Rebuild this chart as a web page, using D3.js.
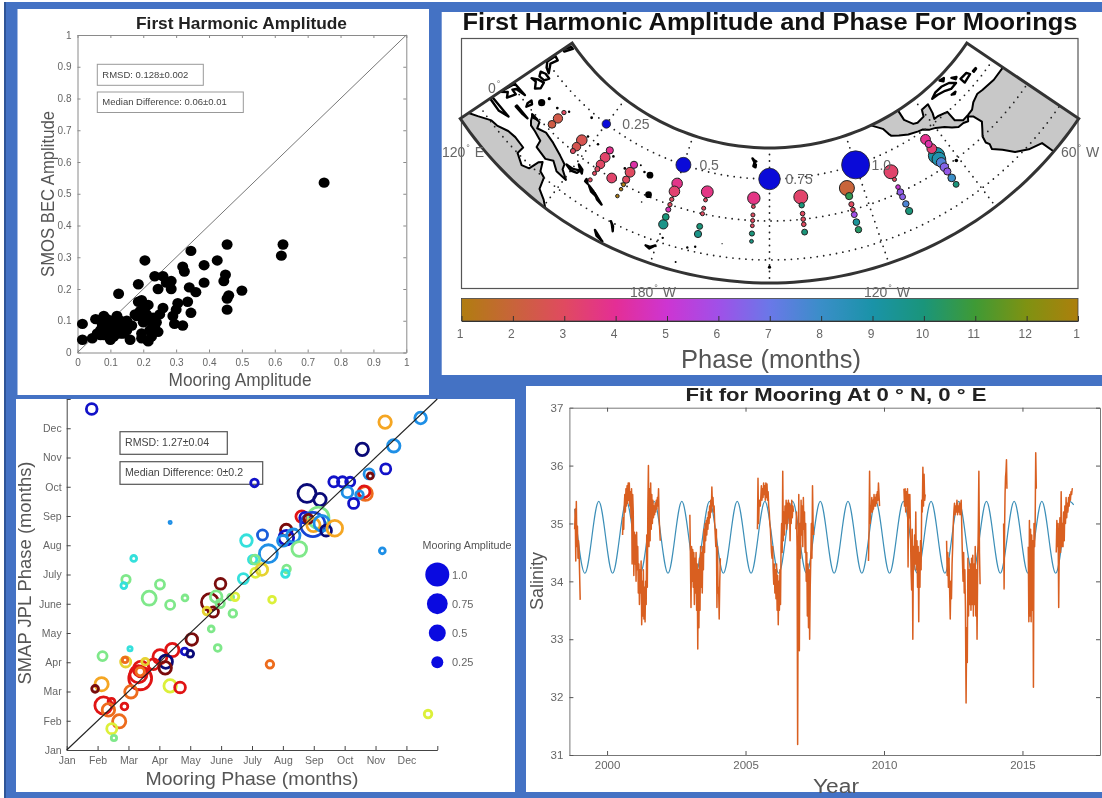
<!DOCTYPE html>
<html><head><meta charset="utf-8">
<script src="https://cdn.jsdelivr.net/npm/d3@7"></script>
<style>
html,body{margin:0;padding:0;background:#fff;overflow:hidden}
svg{display:block;filter:blur(0.35px)}
text{font-family:"Liberation Sans",Arial,sans-serif}
</style></head><body>
<svg id="chart" width="1102" height="798"></svg>
<script>
// ---------- panel A: amplitude scatter ----------
const ampMooring=[0.015,0.015,0.045,0.055,0.07,0.08,0.075,0.085,0.09,0.095,0.1,0.105,0.11,0.12,0.125,0.13,0.14,0.15,0.15,0.16,0.175,0.185,0.185,0.125,0.195,0.2,0.2,0.195,0.205,0.215,0.215,0.22,0.23,0.235,0.245,0.25,0.26,0.205,0.235,0.26,0.245,0.27,0.285,0.285,0.29,0.295,0.32,0.3,0.305,0.32,0.325,0.345,0.34,0.335,0.345,0.36,0.385,0.385,0.425,0.445,0.45,0.455,0.455,0.46,0.455,0.5,0.62,0.625,0.75,0.08,0.09,0.1,0.075,0.11,0.165,0.18,0.19,0.21,0.225,0.24,0.195,0.06,0.13,0.14,0.07,0.1,0.12,0.21,0.23];
const ampSmos=[0.09,0.04,0.045,0.105,0.07,0.115,0.09,0.08,0.06,0.05,0.04,0.1,0.07,0.115,0.09,0.06,0.08,0.07,0.1,0.04,0.12,0.16,0.215,0.185,0.165,0.12,0.095,0.045,0.14,0.15,0.035,0.07,0.11,0.08,0.065,0.12,0.14,0.29,0.24,0.24,0.2,0.22,0.2,0.225,0.115,0.09,0.085,0.135,0.155,0.27,0.255,0.32,0.205,0.16,0.125,0.19,0.275,0.22,0.29,0.225,0.245,0.17,0.34,0.18,0.135,0.195,0.305,0.34,0.535,0.055,0.105,0.085,0.075,0.05,0.085,0.115,0.13,0.1,0.05,0.095,0.06,0.06,0.1,0.06,0.055,0.065,0.1,0.12,0.09];
const ampTicks=[0,0.1,0.2,0.3,0.4,0.5,0.6,0.7,0.8,0.9,1];

// ---------- panel B: mooring map ----------
const mooringLon=[137,137,137, 147,147,147, 156,156,156,156,156,156, 161, 165,165,165,165,165,165,
 180,180,180,180,180,180,180, 190,190,190,190,190,190,
 205,205,205,205,205,205,205, 220,220,220,220,220,220,
 235,235,235,235,235,235,235, 250,250,250,250,250,250,250,
 265,265,265,265,265,265,265,265,265,265];
const mooringLat=[8,5,2, 5,2,0, 8,5,2,0,-2,-5, 0, 8,5,2,0,-2,-5,
 8,5,2,0,-2,-5,-8, 8,5,2,0,-5,-8,
 8,5,2,0,-2,-5,-8, 8,5,2,0,-2,-5,
 8,5,2,0,-2,-5,-8, 8,5,2,0,-2,-5,-8,
 12,10,8,5,3.5,2,0,-2,-5,-8];
const mooringAmp=[0.09,0.28,0.22, 0.33,0.25,0.12, 0.2,0.3,0.25,0.12,0.08,0.08, 0.3, 0.2,0.3,0.2,0.08,0.06,0.06,
 0.33,0.33,0.09,0.09,0.12,0.18,0.28, 0.38,0.07,0.08,0.08,0.15,0.2,
 0.4,0.07,0.08,0.08,0.07,0.12,0.07, 0.46,0.13,0.1,0.1,0.1,0.15,
 0.5,0.2,0.12,0.1,0.15,0.18,0.17, 0.46,0.08,0.1,0.18,0.15,0.17,0.2,
 0.3,0.2,0.3,0.55,0.45,0.3,0.25,0.2,0.22,0.15];
const mooringPhase=[3,2.4,2.3, 2.6,2.6,3, 3.9,3.2,3.1,3,3,3, 3.2, 4.3,3,3,1,1,1,
 3.8,3.3,3,3,4.5,10,9.7, 3.7,3,3,3,10,9.7,
 3.7,3,3,3,3,10,9.8, 3.2,10,3,3,3,10,
 2,10.6,3,3,6,9.3,10.3, 3.2,3,5,6.3,6.4,7.6,10,
 3.9,4.4,3.4,9,8.8,7.5,6.5,6.2,8,10];
const legendLon=[150,180,210,240];
const legendLat=[15,15,15,15];
const legendAmp=[0.25,0.5,0.75,1];
const legendLabel=["0.25","0.5","0.75","1.0"];
const meridians=[150,180,210,240,270];
const parallels=[15,0,-15];
const phaseStops=[1,2,3,4,5,6,7,8,9,10,11,12,13];
const phaseTickLabels=["1","2","3","4","5","6","7","8","9","10","11","12","1"];
const landAustralia=[[115,-40],[115,-20],[120,-19.5],[122,-17.5],[125,-14.5],[127,-14],[130,-12],[132.5,-11.5],[136,-12],[136,-15],[139,-17],[141,-16],[141.7,-12],[142.5,-10.8],[143.7,-14],[145.5,-15],[146.5,-19],[149,-21],[151,-23.5],[153,-26],[153,-40]];
const landNewGuinea=[[131,-0.9],[134,-0.8],[134.8,-3],[137.5,-1.7],[141,-2.6],[145,-4.5],[147.5,-6],[148,-8],[150.5,-10.4],[147,-10],[144.5,-7.7],[142.5,-9.2],[138.5,-8.2],[138,-5.5],[135,-4.4],[133,-4],[132,-2.8]];
const landAmericas=[[250,30],[250.5,26],[254,23],[255,20.5],[255.5,19.5],[258,18.2],[261,16.8],[264.5,15.8],[266,15.5],[268,14],[270,13.2],[272.5,11.5],[274.3,9.7],[276,8.3],[278,8.2],[279.5,7.5],[280.5,8.8],[281.7,7.5],[282.5,4],[281,2],[279.5,0],[279,-2.5],[279.5,-4],[279,-6],[281,-9],[283,-13],[286,-16],[289.5,-18],[289.8,-23],[290,-40],[310,-40],[310,10],[300,10.5],[295,10.6],[290,11.5],[288,12],[285,11],[283,9.5],[281,9.2],[278.5,9],[276.5,11],[276.5,15],[273,16],[271.5,16],[272.3,18],[273,21.5],[270,21.3],[269,19],[266,18.5],[264.5,19],[262.5,22],[262.5,26],[263,30]];
const islands=[
 [[120.5,18.5],[122.2,18.3],[121.7,15.5],[124,13],[122,13.6],[120.5,15]],
 [[122,7],[123.5,8.6],[125.5,9.6],[126.3,7.5],[125.3,5.8],[123.7,7.5]],
 [[122,11],[123.5,12],[125.5,12],[125,10.2],[123,9.7]],
 [[120,22],[121,25],[122,25],[121,22]],
 [[120,-5.5],[120.5,1],[125,1.5],[122,0.3],[121.5,-1],[123.2,-1],[122.5,-4.5],[121.3,-3]],
 [[127.5,2.2],[128.5,1.5],[128,-0.7],[127.4,0.5]],
 [[126,-3.2],[130.8,-3.2],[129,-3.6],[126,-3.8]],
 [[120,-9],[125,-8.5],[127,-8.4],[124,-10],[120,-10]],
 [[130.8,-0.8],[133,-0.7],[131.5,-1.5]],
 [[148,-5.6],[150.2,-5.4],[152.2,-4.2],[151.8,-5.7],[150,-6.4]],
 [[150.8,-2.7],[152.5,-3.5],[153,-4.8],[151.6,-3.6]],
 [[155,-5.5],[156,-6.8],[155,-6.5]],
 [[156.5,-7],[158.5,-8],[160,-9.2],[158,-8.6]],
 [[159,-8.3],[161,-9.8],[162.3,-10.8],[160.5,-10]],
 [[166.6,-14.7],[167.2,-15.6],[168.2,-17.6],[167.7,-16]],
 [[164,-20],[166.5,-22],[167,-22.4],[165,-21.5]],
 [[177.4,-17.6],[178.6,-17.6],[179.8,-16.5],[178.6,-18.2]],
 [[203.7,22.1],[204.4,21.5],[205.2,21.1],[204.5,20.8]],
 [[204.5,20.5],[205.1,19.9],[205,19],[204.2,19.4]],
 [[275.5,22],[278,23],[281,23],[284,22],[285.8,20.2],[283,20],[281,21],[278,21.8]],
 [[288,20],[291,19.8],[291.5,18.5],[288,18]],
 [[281.7,18.4],[283.4,18.2],[282.6,17.8]],
 [[293,18.4],[294.4,18.3],[294.3,18],[293,18]],
 [[282.2,25],[284,24.5],[283,23.8]],
 [[286,22.6],[287.5,21.5],[286.7,21.2]]
];
const tinyLon=[130,130.6,134.5,138,144.8,147.8,151.8,158,163,169,171,173,167,172,181,188,190,186,210,269,180,197];
const tinyLat=[4.5,7.5,7.4,9.5,13.4,7.4,7.4,6.9,5.3,7.4,7.2,0.6,9,-3,-13,-14,-13,-20,-17.5,-0.6,-9,-10];
const tinyR=[3.6,1.6,1.4,1.2,1.4,1.3,1.3,1.3,1.3,1.3,3.4,3.4,1,0.8,1.2,1.2,1.2,1,1.6,1.8,0.8,0.6];

// ---------- panel C: phase comparison ----------
const phaseMooring=[1.81,11.31,12.46,11.59,10.57,11.33,10.79,10.83,7.08,9.65,9.93,10.18,10.09,10.67,10.63,10.48,10.29,8.78,9.2,8.61,8.72,9.15,8.97,8.83,8.99,9.26,9.4,9.68,8.11,8.11,8.34,8,8.53,7.34,6.82,7.53,7.02,7.1,7.11,7.32,6.72,8.12,8.08,7.65,5.98,5.64,5.84,5.75,5.54,5.97,6.31,6.45,6.38,4.83,4.35,3.67,4.02,2.92,2.85,3.17,4.35,11.22,5.68,5.89,5.05,4.82,5,4.42,4.02,4.21,3.81,4.19,3.41,3.38,3.32,3.38,2.91,2.89,3.05,2.16,2.13,1.92,3.08,4.35,4.67,2.87,2.45,2.19,2.35,2.7,2.46,2.53,7.58,12.7,3.54];
const phaseSmap=[12.66,12.21,12.35,11.4,11.28,10.61,10.44,10.37,10.13,10.17,10.17,10.17,9.81,9.77,9.83,9.73,9.43,9.77,9.56,8.98,8.94,8.94,8.71,8.9,8.69,8.75,8.5,8.58,8.52,8.26,8.33,8.15,7.87,8.35,8.16,7.71,7.51,7.51,7.06,7.17,6.86,7.19,7.03,6.14,6.68,6.05,6.24,5.72,5.75,6.01,6.23,6.24,5.67,6.2,5.96,6.19,6.66,6.83,6.62,7.55,8.78,7.81,5.14,4.49,4.78,4.37,4.29,4.42,4.19,4.02,3.93,3.81,3.77,3.45,3.59,3.68,4.01,4.08,4.46,4.21,3.25,3.09,2.99,3.19,3.14,2.49,2.65,2.52,2.37,1.98,1.73,1.41,3.93,2.23,4.02];
const phaseAmp=[0.22,0.28,0.25,0.28,0.28,0.2,0.2,0.09,0.13,0.2,0.2,0.17,0.22,0.34,0.25,0.13,0.2,0.52,0.28,0.25,0.22,0.69,0.89,0.17,0.31,0.41,0.22,0.41,0.25,0.37,0.31,0.22,0.37,0.2,0.25,0.52,0.15,0.17,0.17,0.25,0.2,0.13,0.13,0.11,0.22,0.48,0.25,0.2,0.13,0.15,0.09,0.13,0.13,0.09,0.17,0.34,0.17,0.15,0.09,0.09,0.03,0.09,0.09,0.11,0.25,0.11,0.11,0.31,0.34,0.31,0.22,0.28,0.41,0.79,0.48,0.15,0.2,0.08,0.06,0.17,0.31,0.11,0.28,0.28,0.22,0.11,0.11,0.48,0.28,0.31,0.2,0.08,0.13,0.13,0.11];
const phaseColor=[1,6,2,2,0,1,2,8,1,1,1,1,2,6.4,7,2,1,0,0,7,1,4,1.4,8,6,2,0,6,8,1,2,2,4,1.6,3,2,3,4,5,5.4,3,4,3,5,8,8,4,8,5.4,4,4,5,4,4,4,4,4,4,3,3,2,2,4,4,8,1,0,7,7,0,7,8,7,7,7,6.4,5.4,6.4,3,4,6,8,6.4,5,7,7,7,7,6.4,6.4,5,4,6.4,5,5.4];
const monthLabels=["Jan","Feb","Mar","Apr","May","June","July","Aug","Sep","Oct","Nov","Dec"];
const sizeLegendMonth=[7,6,5,4];
const sizeLegendAmp=[1,0.75,0.5,0.25];
const sizeLegendLabel=["1.0","0.75","0.5","0.25"];

// ---------- panel D: salinity time series ----------
const fitYear=[1998.83,1999.2,1999.7,2000.2,2000.7,2001.2,2001.7,2002.2,2002.7,2003.2,2003.7,2004.2,2004.7,2005.2,2005.7,2006.2,2006.7,2007.2,2007.7,2008.2,2008.7,2009.2,2009.7,2010.2,2010.7,2011.2,2011.7,2012.2,2012.7,2013.2,2013.7,2014.2,2014.7,2015.2,2015.7,2016.2,2016.7,2016.85];
const fitSalinity=[35.25,34.14,35.38,34.14,35.38,34.14,35.38,34.14,35.38,34.14,35.38,34.14,35.38,34.14,35.38,34.14,35.38,34.14,35.38,34.14,35.38,34.14,35.38,34.14,35.38,34.14,35.38,34.14,35.38,34.14,35.38,34.14,35.38,34.14,35.38,34.14,35.38,35.32];
const burstStart=[1998.83,2000.56,2002.99,2005.43,2006.82,2009.44,2010.72,2012.26,2014.32,2015.21,2016.22];
const burstEnd=[1999.03,2001.92,2004.09,2006.73,2007.46,2009.84,2011.49,2013.47,2014.44,2015.5,2016.82];
const burstSalinity=[
 [34.9,35.25,34.35,35.38,34.6,34.95,34.4,34.7,34.5,34.1,33.68],
 [34.8,35.1,34.9,35.3,35.5,35.2,35.6,35.3,35.65,35.35,35.7,35.4,35.7,35.3,35.55,35.1,35.6,34.3,35.5,35.2,34.1,34.85,34.3,34.8,34,34.85,34.2,34.6,33.8,34.3,33.6,34.2,33.8,34.35,33.25,34,33.4,34.2,33.35,33.9,33.3,34,33.6,34.8,33.9,35.3,36,34.6,35.6,34.7,35.7,34.9,35.5,35,35.4,35.1,35.3,35.15,35.35,35.2,35.4,35.25,35.45,35.3,35.6,35.1,34.9,34.7],
 [35.15,34.4,33.55,34.6,34,34.55,33.9,34.5,33.6,34.4,33.8,34.5,33.5,34.3,32.83,34.2,33.2,34.4,33.5,34.6,33.9,34.5,33.8,34.6,34.2,34.9,34.5,35,34.7,35.05,34.8,35.1,34.9,35.2,35,35.3,35.1,35.4,35.2,35.63,35.3,35.45,35.2,35.3,35,34.8,34.6,34.9,33.55,34.6,33.8,33.9,33.35,34,34.4],
 [34.9,35.78,35,35.3,35.4,35.3,35.45,35.65,35.4,35.6,35.45,35.7,35.5,35.65,35.4,35.7,35.45,35.68,35.4,35.55,35.3,35.2,35,34.9,34.7,34.5,34.4,34.6,34.2,33.95,34.3,33.8,34.2,33.7,34.3,33.5,34.1,33.25,34,33.5,34.2,33.6,34.6,35,34.5,35.9,34.7,35.2,34.8,35.3,35,35.4,34.9,35.35,35,35.4,35.1,35.35,34.7,35.3,35,35.4,35.1,35.3,35.2],
 [34.9,35.2,34.6,31.18,34.4,35.5,32.8,35,34.4,35.4,34.8,35.3,34.6,35.45,34.9,35.2,34.5,35,34,34.5,33.4,34.3,33.2,34.2,33,33.9,34.4,35,34.4,35.65,35,34.8],
 [34.35,34.9,35.9,35,35.3,35.2,35.45,35.2,35.4,35.25,35.5,35.3,35.45,35.3,35.5,35.35,35.55,35.4,35.7,35.5,35.3],
 [35.6,35.3,35.6,35.2,35.55,35.3,35.6,34.25,35.5,35.1,35.5,34.9,34.2,33.85,34.9,33,34.6,34.2,34.8,34.3,35.2,34.2,34.7,33.9,34.6,33.3,34.5,33.9,34.7,34.2,35.4,35.2,35.97,35.3,35.85,35.4,35.5],
 [34.7,34.1,34.5,33.9,34.4,33.85,33.35,34,33.7,34.3,34.6,35,35.2,35.35,35.15,35.3,35.2,35.4,35.15,35.3,35.2,35.35,35.15,35.3,35.4,34.9,34.4,34,34.5,33.8,34.2,33.5,31.9,33.2,32.6,34.4,33.4,34.2,33.6,34.3,33.5,34.4,33.6,34.45,33.4,34.3,33.6,34.6,33.4,34.2,33,34.2,34.9,35.9,34.5,33.95],
 [35,33.87,34.9,35.5,35.8,35.9,36.1,35.6],
 [34.6,33.3,35.05,33.4,34.9,33.3,34.8,33.5,34.7,32.17,35,34.6,35,36.22,35.6],
 [34.5,35.05,34.6,35,33.55,34.7,35.1,34.5,35.55,34.6,35,34.6,35.2,34.7,35.3,35,35.45,35.1,35.35,35.2,35.45,35.3,35.5,35.4,35.55,35.5,35.6,35.6]
];
const yearTicks=[2000,2005,2010,2015];
const salinityTicks=[31,32,33,34,35,36,37];

// ---------- drawing ----------
const svg=d3.select("#chart");
const INK="#555", BLUE="#4472c4";
svg.append("rect").attr("x",4).attr("y",2).attr("width",1098).attr("height",796).attr("fill",BLUE);
svg.append("rect").attr("x",4).attr("y",2).attr("width",2).attr("height",796).attr("fill","#2f5597");
[[17.5,9,411.5,386],[441.7,12,660.3,363],[16,399,499,393],[526,386,576,406]].forEach(p=>
  svg.append("rect").attr("x",p[0]).attr("y",p[1]).attr("width",p[2]).attr("height",p[3]).attr("fill","#fff"));

function styleAxis(g,size,color,ink){
  g.selectAll("path").attr("stroke",color).attr("fill","none");
  g.selectAll("line").attr("stroke",color);
  g.selectAll("text").attr("fill",ink||INK).attr("font-size",size).attr("font-family",'"Liberation Sans",Arial,sans-serif');
}
function label(x,y,txt,size,o={}){
  const t=svg.append("text").attr("x",x).attr("y",y).text(txt).attr("font-size",size)
    .attr("fill",o.fill||INK).attr("text-anchor",o.anchor||"middle");
  if(o.bold)t.attr("font-weight","bold");
  if(o.rotate)t.attr("transform",`rotate(${o.rotate} ${x} ${y})`);
  if(o.len)t.attr("textLength",o.len).attr("lengthAdjust","spacingAndGlyphs");
  return t;
}
function infoBox(x,y,w,h,txt,size,stroke,sw){
  svg.append("rect").attr("x",x).attr("y",y).attr("width",w).attr("height",h).attr("fill","#fff").attr("stroke",stroke).attr("stroke-width",sw);
  label(x+5,y+h/2+3.2,txt,size,{anchor:"start",fill:"#444"});
}

// Panel A
(function(){
  const x=d3.scaleLinear([0,1],[77.5,406.3]), y=d3.scaleLinear([0,1],[352.5,35]);
  const f=d3.format("~g");
  const gc="#8a8a8a";
  const ax=[[d3.axisBottom(x).tickValues(ampTicks).tickFormat(f),`translate(0,${y(0)})`],
            [d3.axisLeft(y).tickValues(ampTicks).tickFormat(f),`translate(${x(0)},0)`],
            [d3.axisTop(x).tickValues(ampTicks).tickFormat(""),`translate(0,${y(1)})`],
            [d3.axisRight(y).tickValues(ampTicks).tickFormat(""),`translate(${x(1)},0)`]];
  ax.forEach(([a,t])=>{
    const g=svg.append("g").attr("transform",t).call(a.tickSizeInner(-3).tickSizeOuter(0).tickPadding(6));
    styleAxis(g,10,gc,"#666");
  });
  svg.append("line").attr("x1",x(0)).attr("y1",y(0)).attr("x2",x(1)).attr("y2",y(1)).attr("stroke","#777").attr("stroke-width",1);
  svg.append("g").selectAll("ellipse").data(ampMooring).join("ellipse")
    .attr("cx",d=>x(d)).attr("cy",(d,i)=>y(ampSmos[i])).attr("rx",5.5).attr("ry",5.2).attr("fill","#000");
  infoBox(97.3,64.3,106,21,"RMSD: 0.128±0.002",9.5,"#999",1);
  infoBox(97.3,92,146,20.5,"Median Difference: 0.06±0.01",9.5,"#999",1);
  label(241.5,29,"First Harmonic Amplitude",17,{bold:true,fill:"#222",len:211});
  label(240,386,"Mooring Amplitude",17.5,{len:143});
  label(54,194,"SMOS BEC Amplitude",18,{rotate:-90,len:166});
})();

// Panel B
(function(){
  const cx=769.5, cy=-90;
  const lonAngle=d3.scaleLinear([120,300],[-56,56]);
  const latRadius=d3.scaleLinear([26,15,0,-15,-23],[238,269,311,350,373]);
  const project=([lon,lat])=>{
    const a=lonAngle(lon)*Math.PI/180, r=latRadius(lat);
    return [cx+r*Math.sin(a),cy+r*Math.cos(a)];
  };
  const line=d3.line();
  const closed=d3.line().curve(d3.curveLinearClosed);
  const latTop=26, latBot=-23;
  const lons=d3.range(120,300.01,2);
  const sector=[...lons.map(l=>[l,latTop]),...lons.slice().reverse().map(l=>[l,latBot])];
  const sectorPx=sector.map(project);
  const defs=svg.append("defs");
  defs.append("clipPath").attr("id","mapClip").append("path").attr("d",closed(sectorPx));

  const phaseScale=d3.scaleLinear(phaseStops,["#b07d10","#c8643a","#e04a60","#e42e95","#cd35d2","#a050e8","#6a78e8","#3a8ec8","#1a93a8","#1a957a","#3f9a35","#7f9212","#ad7f0c"]);

  svg.append("rect").attr("x",461.5).attr("y",38.5).attr("width",616.5).attr("height",250).attr("fill","#fff").attr("stroke","#555").attr("stroke-width",1.2);
  const map=svg.append("g").attr("clip-path","url(#mapClip)");
  [landAustralia,landNewGuinea,landAmericas].forEach(p=>
    map.append("path").attr("d",closed(p.map(project))).attr("fill","#c8c8c8").attr("stroke","#000").attr("stroke-width",2).attr("stroke-linejoin","round"));
  const dots={fill:"none",stroke:"#222","stroke-width":1.8,"stroke-linecap":"round","stroke-dasharray":"0 6.5"};
  const applyDots=s=>{Object.entries(dots).forEach(([k,v])=>s.attr(k,v));return s;};
  meridians.forEach(l=>applyDots(map.append("path").attr("d",line([[l,latTop],[l,latBot]].map(project)))));
  parallels.forEach(lat=>applyDots(map.append("path").attr("d",line(lons.map(l=>project([l,lat]))))));
  map.append("g").selectAll("path").data(islands).join("path").attr("d",d=>closed(d.map(project)))
    .attr("fill","#fff").attr("stroke","#000").attr("stroke-width",2.4).attr("stroke-linejoin","round");
  map.append("g").selectAll("circle").data(tinyLon).join("circle")
    .attr("cx",(d,i)=>project([d,tinyLat[i]])[0]).attr("cy",(d,i)=>project([d,tinyLat[i]])[1]).attr("r",(d,i)=>tinyR[i]).attr("fill","#000");
  svg.append("path").attr("d",closed(sectorPx)).attr("fill","none").attr("stroke","#333").attr("stroke-width",3).attr("stroke-linejoin","miter");

  const rad=d3.scaleLinear([0,1],[1,14]);
  const order=d3.range(mooringLon.length).sort((a,b)=>mooringAmp[b]-mooringAmp[a]);
  svg.append("g").selectAll("circle").data(order).join("circle")
    .attr("cx",i=>project([mooringLon[i],mooringLat[i]])[0]).attr("cy",i=>project([mooringLon[i],mooringLat[i]])[1])
    .attr("r",i=>rad(mooringAmp[i])).attr("fill",i=>phaseScale(mooringPhase[i])).attr("stroke","#222").attr("stroke-width",1);
  svg.append("g").selectAll("circle").data(legendAmp).join("circle")
    .attr("cx",(d,i)=>project([legendLon[i],legendLat[i]])[0]).attr("cy",(d,i)=>project([legendLon[i],legendLat[i]])[1])
    .attr("r",d=>rad(d)).attr("fill","#0a0ad8").attr("stroke","#222").attr("stroke-width",0.8);
  legendAmp.forEach((d,i)=>{
    const p=project([legendLon[i],legendLat[i]]);
    label(p[0]+16,p[1]+5,legendLabel[i],14,{anchor:"start",fill:"#666"});
  });

  function degLabel(x,y,a,b,anchor){
    const t=svg.append("text").attr("x",x).attr("y",y).attr("font-size",14).attr("fill","#666").attr("text-anchor",anchor||"start");
    t.append("tspan").text(a);
    t.append("tspan").text("°").attr("font-size",9).attr("dy",-6).attr("dx",1);
    if(b)t.append("tspan").text(" "+b).attr("dy",6).attr("dx",1);
  }
  degLabel(488,93,"0","");
  degLabel(442,157,"120","E");
  degLabel(1061,157,"60","W");
  degLabel(630,297,"180","W");
  degLabel(864,297,"120","W");
  label(770,30,"First Harmonic Amplitude and Phase For Moorings",24,{bold:true,fill:"#111",len:615});

  const barX=d3.scaleLinear([1,13],[461.5,1078]);
  const grad=defs.append("linearGradient").attr("id","phaseGrad");
  phaseStops.forEach(s=>grad.append("stop").attr("offset",(s-1)/12).attr("stop-color",phaseScale(s)));
  svg.append("rect").attr("x",461.5).attr("y",298.5).attr("width",616.5).attr("height",22.5).attr("fill","url(#phaseGrad)").attr("stroke","#444").attr("stroke-width",0.8);
  const bar=svg.append("g").attr("transform","translate(0,321)").call(d3.axisBottom(barX).tickValues(phaseStops).tickFormat((d,i)=>phaseTickLabels[i]).tickSizeInner(-5).tickSizeOuter(0).tickPadding(8));
  styleAxis(bar,12,"#333","#666");
  bar.select(".domain").attr("stroke","#333");
  bar.selectAll("text").attr("dx",-2);
  label(771,368,"Phase (months)",25,{fill:"#555",len:180});
})();

// Panel C
(function(){
  const x=d3.scaleLinear([1,13],[66.7,437.3]), y=d3.scaleLinear([1,13],[750,399]);
  const ticks=d3.range(1,14);
  const lab=d=>monthLabels[d-1]||"";
  const gx=svg.append("g").attr("transform",`translate(0,${y(1)})`).call(d3.axisBottom(x).tickValues(ticks).tickFormat(lab).tickSizeInner(-4).tickSizeOuter(0).tickPadding(7));
  const gy=svg.append("g").attr("transform",`translate(${x(1)},0)`).call(d3.axisLeft(y).tickValues(ticks).tickFormat(d=>d<=12&&d>=1?lab(d):"").tickSizeInner(-4).tickSizeOuter(0).tickPadding(5));
  [gx,gy].forEach(g=>{styleAxis(g,10.5,"#444","#666");});
  const jet=d3.scaleLinear(d3.range(0,9),["#0a0a78","#1212c8","#1e8fe6","#35e0dc","#7fe88a","#dcf03a","#f5a623","#e01414","#7a0c0c"]);
  const rS=d3.scaleSqrt([0,1],[0,12]);
  infoBox(120,431.7,107.3,22.6,"RMSD: 1.27±0.04",10.6,"#555",1.2);
  infoBox(120,461.7,142.7,22.6,"Median Difference: 0±0.2",10.6,"#555",1.2);
  svg.append("g").selectAll("circle").data(phaseMooring).join("circle")
    .attr("cx",d=>x(d)).attr("cy",(d,i)=>y(phaseSmap[i])).attr("r",(d,i)=>Math.max(rS(phaseAmp[i])*1.2-1.4,0.4))
    .attr("fill","none").attr("stroke",(d,i)=>jet(phaseColor[i])).attr("stroke-width",2.8);
  svg.append("line").attr("x1",x(1)).attr("y1",y(1)).attr("x2",x(13)).attr("y2",y(13)).attr("stroke","#222").attr("stroke-width",1.1);
  label(467,549,"Mooring Amplitude",10,{fill:"#555",len:89});
  svg.append("g").selectAll("circle").data(sizeLegendAmp).join("circle")
    .attr("cx",x(13)).attr("cy",(d,i)=>y(sizeLegendMonth[i])).attr("r",d=>rS(d)).attr("fill","#0a0ae0");
  sizeLegendAmp.forEach((d,i)=>label(452,y(sizeLegendMonth[i])+4,sizeLegendLabel[i],11,{anchor:"start",fill:"#666"}));
  label(252,785,"Mooring Phase (months)",19,{len:213});
  label(31,573,"SMAP JPL Phase (months)",19,{rotate:-90,len:223});
})();

// Panel D
(function(){
  const x=d3.scaleLinear([1998.64,2017.8],[569.4,1100]), y=d3.scaleLinear([31,37],[755,407.7]);
  const ink="#777";
  const ax=[[d3.axisBottom(x).tickValues(yearTicks).tickFormat(d3.format("d")),`translate(0,${y(31)})`],
            [d3.axisLeft(y).tickValues(salinityTicks).tickFormat(d3.format("d")),`translate(${x.range()[0]},0)`],
            [d3.axisTop(x).tickValues(yearTicks).tickFormat(""),`translate(0,${y(37)})`],
            [d3.axisRight(y).tickValues(salinityTicks).tickFormat(""),`translate(${x.range()[1]},0)`]];
  ax.forEach(([a,t])=>{
    const g=svg.append("g").attr("transform",t).call(a.tickSizeInner(-4).tickSizeOuter(0).tickPadding(6));
    styleAxis(g,11.5,ink,"#666");
    g.selectAll("line").attr("stroke","#555");
  });
  const fit=d3.line().x((d,i)=>x(fitYear[i])).y(d=>y(d)).curve(d3.curveMonotoneX);
  svg.append("path").attr("d",fit(fitSalinity)).attr("fill","none").attr("stroke","#3c8fb8").attr("stroke-width",1.2);
  const obs=d3.line().y(d=>y(d));
  burstSalinity.forEach((vals,b)=>{
    const t=d3.scaleLinear([0,vals.length-1],[burstStart[b],burstEnd[b]]);
    svg.append("path").attr("d",obs.x((d,i)=>x(t(i)))(vals)).attr("fill","none").attr("stroke","#d95f20").attr("stroke-width",1.5).attr("stroke-linejoin","round");
  });
  label(836,401,"Fit for Mooring At 0 ° N, 0 ° E",18,{bold:true,fill:"#222",len:301});
  label(836,793,"Year",20,{fill:"#555",len:46});
  label(543,581,"Salinity",19,{rotate:-90,len:58});
})();
</script>
</body></html>
